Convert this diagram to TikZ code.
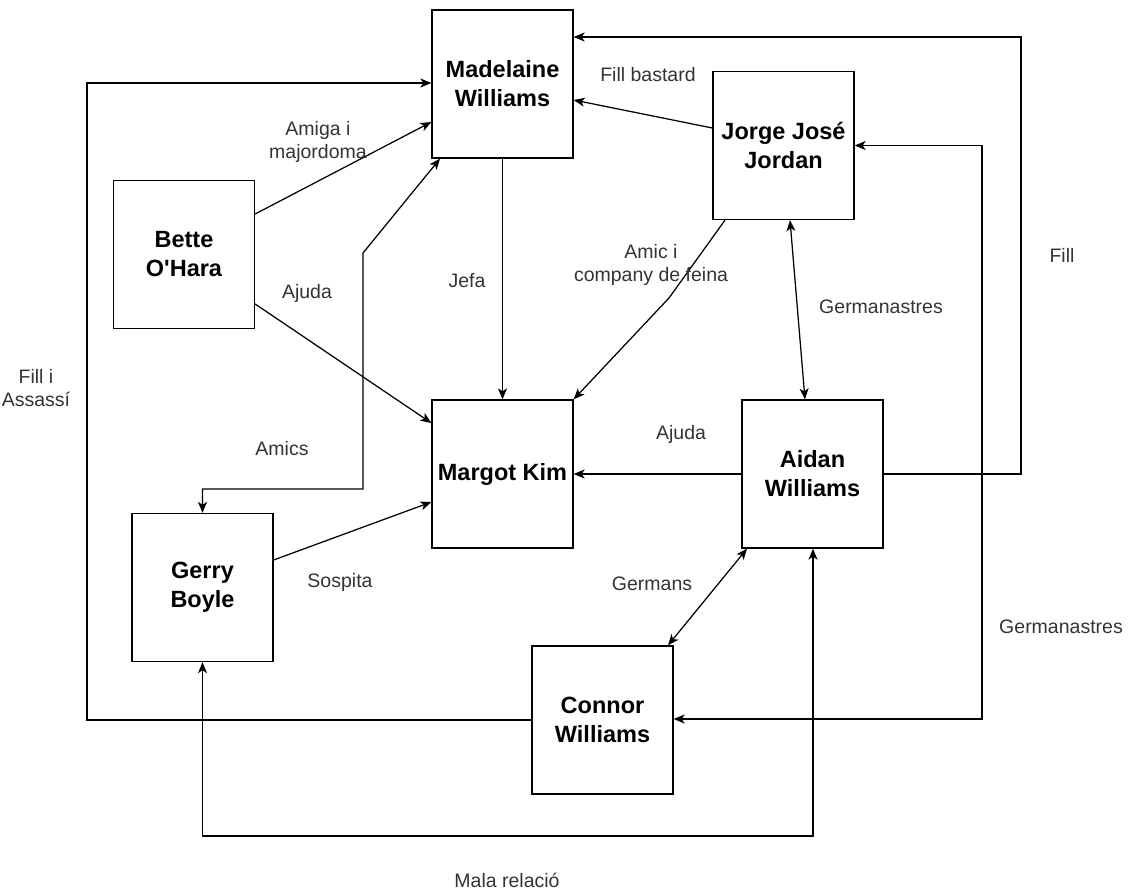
\documentclass[tikz,border=0pt]{standalone}
\usepackage{fontspec}
\setmainfont{Liberation Sans}[Ligatures=TeXOff]
\usetikzlibrary{arrows.meta}
\begin{document}
\begin{tikzpicture}[x=1pt,y=-1pt,
 person/.style={draw, line width=1.3pt, minimum width=141pt, minimum height=148pt, align=center,
   font=\fontsize{23.5}{29}\selectfont\bfseries, inner sep=0pt},
 lbl/.style={align=center, font=\fontsize{19.5}{23}\selectfont, text=black!80, inner sep=0pt},
 tip/.tip={Stealth[length=11pt,width=9pt,inset=3pt]},
 conn/.style={line width=1.25pt, -tip},
 biconn/.style={line width=1.25pt, tip-tip}
]
\useasboundingbox (0,0) rectangle (1132,891);

% people
\node[person] (mad) at (502.5,84) {Madelaine\\Williams};
\node[person] (jor) at (783.5,145.5) {Jorge José\\Jordan};
\node[person] (bet) at (184,254.5) {Bette\\O'Hara};
\node[person] (mar) at (502.5,474) {Margot Kim};
\node[person] (aid) at (812.5,474) {Aidan\\Williams};
\node[person] (ger) at (202.5,587.5) {Gerry\\Boyle};
\node[person] (con) at (602.5,720) {Connor\\Williams};

% connectors
\draw[conn] (aid.east) -| (1021,37) -- (mad.east |- 0,37);
\draw[conn] (jor.west |- 0,128) -- (mad.east |- 0,100);
\draw[conn] (con.west) -| (87,83) -- (mad.west |- 0,83);
\draw[conn] (bet.east |- 0,214) -- (mad.west |- 0,122);
\draw[conn] (bet.east |- 0,304) -- (mar.west |- 0,423);
\draw[conn] (mad.south) -- (mar.north);
\draw[conn] (jor.south west -| 725,0) -- (669,298) -- (mar.north east);
\draw[biconn] (jor.south -| 790,0) -- (aid.north -| 805,0);
\draw[conn] (aid.west) -- (mar.east);
\draw[biconn] (aid.south west -| 747,0) -- (con.north east -| 668,0);
\draw[conn] (ger.east |- 0,560) -- (mar.west |- 0,502);
\draw[biconn] (mad.south west -| 440,0) -- (363,253) -- (363,489) -| (ger.north);
\draw[biconn] (jor.east) -| (982,719) -- (con.east |- 0,719);
\draw[biconn] (aid.south -| 813,0) -- (813,836) -| (ger.south);

% labels
\node[lbl] (l1) at (648,75) {Fill bastard};
\node[lbl] (l2) at (318,142) {Amiga i\\majordoma};
\node[lbl] (l3) at (307,293) {Ajuda};
\node[lbl] (l4) at (467,281) {Jefa};
\node[lbl] (l5) at (651,265) {Amic i\\company de feina};
\node[lbl] (l6) at (881,307) {Germanastres};
\node[lbl] (l7) at (1062,255) {Fill};
\node[lbl] (l8) at (36,388) {Fill i\\Assassí};
\node[lbl] (l9) at (282,449) {Amics};
\node[lbl] (l10) at (681,434) {Ajuda};
\node[lbl] (l11) at (340,582) {Sospita};
\node[lbl] (l12) at (652,584) {Germans};
\node[lbl] (l13) at (1061,627) {Germanastres};
\node[lbl] (l14) at (507,880) {Mala relació};
\end{tikzpicture}
\end{document}
